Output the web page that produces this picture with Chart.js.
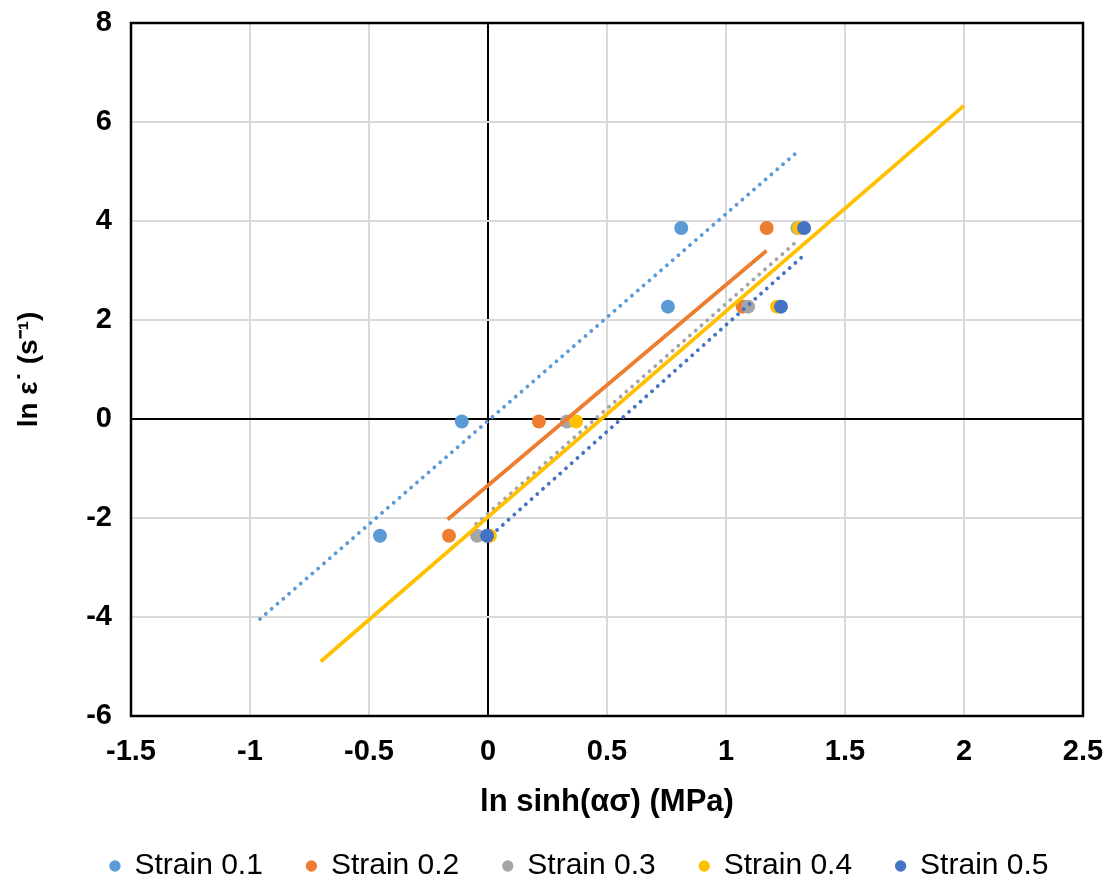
<!DOCTYPE html>
<html>
<head>
<meta charset="utf-8">
<script src="https://cdn.jsdelivr.net/npm/chart.js@4/dist/chart.umd.min.js"></script>
<style>
  html, body { margin: 0; padding: 0; background: #fff; }
  canvas { display: block; }
</style>
</head>
<body>
<canvas id="c" width="1112" height="892"></canvas>
<script>
// Series names and colours
const seriesNames = ['Strain 0.1', 'Strain 0.2', 'Strain 0.3', 'Strain 0.4', 'Strain 0.5'];
const seriesColors = ['#5B9BD5', '#ED7D31', '#A5A5A5', '#FFC000', '#4472C4'];

// ln(strain rate) levels shared by every series
const lnRate = [-2.36, -0.05, 2.27, 3.86];

// ln sinh(alpha*sigma) for each series at the levels above
const strain01X = [-0.454, -0.11, 0.756, 0.812];
const strain02X = [-0.164, 0.214, 1.07, 1.171];
const strain03X = [-0.046, 0.332, 1.093, 1.30];
const strain04X = [0.008, 0.37, 1.214, 1.307];
const strain05X = [-0.004, null, 1.231, 1.328];

// Linear trend lines: start / end points
const fit01X = [-0.958, 1.298], fit01Y = [-4.04, 5.39];
const fit02X = [-0.17, 1.17],   fit02Y = [-2.03, 3.40];
const fit03X = [-0.05, 1.30],   fit03Y = [-2.12, 3.60];
const fit04X = [-0.703, 2.0],   fit04Y = [-4.90, 6.33];
const fit05X = [-0.01, 1.33],   fit05Y = [-2.45, 3.32];

// Axis ticks
const xTicks = [-1.5, -1, -0.5, 0, 0.5, 1, 1.5, 2, 2.5];
const yTicks = [-6, -4, -2, 0, 2, 4, 6, 8];

const pointSets = [strain01X, strain02X, strain03X, strain04X, strain05X];
const fitSets = [[fit01X, fit01Y], [fit02X, fit02Y], [fit03X, fit03Y], [fit04X, fit04Y], [fit05X, fit05Y]];
const fitDotted = [true, false, true, false, true];

function toPoints(xs, ys) {
  const out = [];
  xs.forEach((x, i) => { if (x !== null) out.push({ x: x, y: ys[i] }); });
  return out;
}

const datasets = [];
pointSets.forEach((xs, i) => {
  datasets.push({
    label: seriesNames[i],
    data: toPoints(xs, lnRate),
    backgroundColor: seriesColors[i],
    borderColor: seriesColors[i],
    borderWidth: 0,
    pointRadius: 7,
    pointHoverRadius: 7,
    showLine: false,
    order: 20 - i          // later series are painted over earlier ones
  });
});
fitSets.forEach((f, i) => {
  datasets.push({
    label: seriesNames[i] + ' fit',
    data: toPoints(f[0], f[1]),
    borderColor: seriesColors[i],
    backgroundColor: seriesColors[i],
    borderWidth: 3.8,
    borderDash: fitDotted[i] ? [0.1, 7.6] : [],
    borderCapStyle: fitDotted[i] ? 'round' : 'butt',
    pointRadius: 0,
    pointHoverRadius: 0,
    showLine: true,
    fill: false,
    order: 5 - i           // trend lines sit above the markers
  });
});

// Black frame around the plot area
const frame = {
  id: 'frame',
  afterDraw(chart) {
    const a = chart.chartArea, ctx = chart.ctx;
    ctx.save();
    ctx.strokeStyle = '#000';
    ctx.lineWidth = 2.5;
    ctx.strokeRect(a.left, a.top, a.right - a.left, a.bottom - a.top);
    ctx.restore();
  }
};

// Legend: wide item spacing without giving it a tall box in the layout
const legendFont = 30, legendGap = 44, legendBoxHeight = 48, legendCenterY = 866, legendShiftX = 38;
const legendPlace = {
  id: 'legendPlace',
  beforeLayout(chart) {
    const lg = chart.legend;
    if (lg && !lg._fixedHeight) {
      const fit = lg.fit.bind(lg);
      lg.fit = function () { fit(); this.height = legendBoxHeight; };
      lg._fixedHeight = true;
    }
  },
  afterLayout(chart) {
    const lg = chart.legend;
    if (!lg) return;
    lg.top = legendCenterY - legendGap - legendFont / 2;
    lg.bottom = chart.height;
    lg.height = lg.bottom - lg.top;
    lg.left += legendShiftX;
    lg.right += legendShiftX;
  }
};

const gridColor = (c) => (c.tick && c.tick.value === 0) ? '#000' : '#d9d9d9';
const family = '"Liberation Sans", Arial, sans-serif';
const tickFont = { family: family, size: 29, weight: 'bold' };

new Chart(document.getElementById('c'), {
  type: 'scatter',
  data: { datasets: datasets },
  options: {
    responsive: false,
    animation: false,
    devicePixelRatio: 1,
    layout: { padding: { left: 0, right: 29, top: 23, bottom: 0 } },
    plugins: {
      tooltip: { enabled: false },
      legend: {
        position: 'bottom',
        labels: {
          filter: (item) => item.datasetIndex < seriesNames.length,
          sort: (a, b) => a.datasetIndex - b.datasetIndex,
          usePointStyle: true,
          pointStyle: 'circle',
          boxWidth: 9,
          boxHeight: 8,
          padding: legendGap,
          color: '#000',
          font: { family: family, size: legendFont }
        }
      }
    },
    scales: {
      x: {
        type: 'linear',
        min: -1.5, max: 2.5,
        afterBuildTicks: (s) => { s.ticks = xTicks.map(v => ({ value: v })); },
        afterFit: (s) => { s.height = 128; s.paddingLeft = 0; s.paddingRight = 0; },
        grid: { color: gridColor, lineWidth: 2, drawTicks: false },
        border: { display: false },
        ticks: { color: '#000', font: tickFont, padding: 19, maxRotation: 0, callback: (v) => String(v) },
        title: { display: true, text: 'ln sinh(ασ) (MPa)', color: '#000', font: { family: family, size: 31, weight: 'bold' }, padding: { top: 0, bottom: 23 } }
      },
      y: {
        type: 'linear',
        min: -6, max: 8,
        afterBuildTicks: (s) => { s.ticks = yTicks.map(v => ({ value: v })); },
        afterFit: (s) => { s.width = 131; s.paddingTop = 0; s.paddingBottom = 0; },
        grid: { color: gridColor, lineWidth: 2, drawTicks: false },
        border: { display: false },
        ticks: { color: '#000', font: tickFont, padding: 19, callback: (v) => String(v) },
        title: { display: true, text: 'ln ε˙ (s⁻¹)', color: '#000', font: { family: family, size: 28, weight: 'bold' }, padding: { top: 12, bottom: 0 } }
      }
    }
  },
  plugins: [frame, legendPlace]
});
</script>
</body>
</html>
